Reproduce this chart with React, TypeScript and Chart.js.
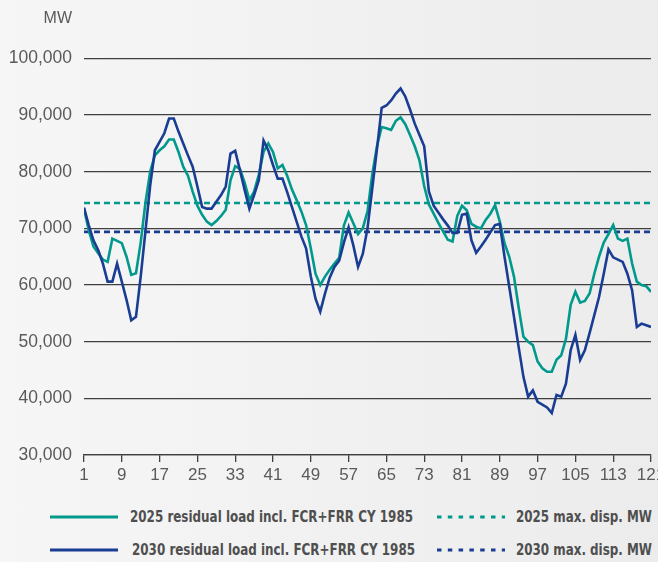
import React, { useEffect, useLayoutEffect, useRef } from 'react';
import { Chart, registerables } from 'chart.js';

Chart.register(...registerables);

// ---------- DATA ----------
const categories: number[] = Array.from({ length: 121 }, (_, i) => i + 1);

const xTickStep = 8;
const yUnit = 'MW';

const res2025: number[] = [
  73500, 69700, 66800, 65600, 64500, 64100, 68200, 67800, 67400, 65000,
  61800, 62100, 67500, 74500, 80000, 82900, 83800, 84500, 85700, 85700,
  83500, 80900, 79300, 76500, 74000, 72400, 71200, 70600, 71300, 72200,
  73300, 78500, 81000, 80500, 78100, 75000, 76500, 79500, 83500, 85000,
  83500, 80600, 81200, 79300, 76900, 75000, 73000, 70600, 66500, 62000,
  60000, 61500, 62700, 63800, 64800, 70500, 72800, 70900, 69000, 70000,
  73000, 79500, 84500, 87900, 87700, 87400, 89000, 89600, 88400, 86500,
  84500, 82000, 77500, 74200, 72600, 71000, 69500, 68000, 67700, 72200,
  74000, 73200, 70800, 70300, 70000, 71500, 72600, 74100, 71200, 67400,
  65000, 61500, 56000, 50900, 50000, 49400, 46500, 45300, 44700, 44700,
  46800, 47600, 50500, 56500, 58800, 56900, 57200, 58500, 62000, 65000,
  67500, 69000, 70600, 68200, 67800, 68200, 63800, 60600, 60000, 59800, 58800,
];

const res2030: number[] = [
  73700, 70600, 67900, 66200, 63800, 60600, 60600, 63800, 60600, 57400,
  53800, 54400, 61500, 69500, 77500, 83800, 85300, 86800, 89400, 89400,
  87100, 85000, 82900, 80900, 77400, 73800, 73500, 73500, 74700, 75900,
  77400, 83200, 83700, 80300, 76800, 73500, 75900, 78500, 85500, 83800,
  81200, 78800, 78800, 76400, 73800, 71200, 68600, 66500, 61500, 57600,
  55300, 58500, 61300, 63200, 64300, 67500, 70200, 67000, 63200, 65500,
  70000, 77000, 84000, 91300, 91700, 92600, 93800, 94700, 93300, 91000,
  88500, 86500, 84500, 76500, 74000, 72800, 71600, 70500, 69200, 69200,
  72400, 72600, 67900, 65700, 66800, 68000, 69300, 70600, 70800, 65000,
  59700, 54400, 49000, 43800, 40300, 41400, 39400, 38900, 38400, 37400,
  40600, 40300, 42600, 48500, 51200, 46800, 48500, 51500, 54700, 57900,
  62000, 66300, 64900, 64500, 64100, 62000, 59100, 52600, 53200, 52900, 52600,
];

const maxDisp2025 = 74500;
const maxDisp2030 = 69400;

const yMin = 30000;
const yMax = 100000;
const yStep = 10000;

const seriesLabels = [
  '2025 residual load incl. FCR+FRR CY 1985',
  '2030 residual load incl. FCR+FRR CY 1985',
  '2025 max. disp. MW',
  '2030 max. disp. MW',
];

// ---------- STYLE ----------
const TEAL = '#00998C';
const BLUE = '#1A3D94';
const GRID = '#3f3f3f';
const TICK = '#5a5a5a';
const LEGEND_TEXT = '#4f4f4f';
const FONT = '"Liberation Sans", Arial, sans-serif';

const mwLabelPlugin = {
  id: 'mwLabel',
  afterDraw(chart: any) {
    const ctx = chart.ctx;
    ctx.save();
    ctx.font = `16px ${FONT}`;
    ctx.fillStyle = TICK;
    ctx.textAlign = 'right';
    ctx.textBaseline = 'middle';
    ctx.fillText(yUnit, chart.chartArea.left - 12, 19);
    ctx.restore();
  },
};

function LegendText({ text, left, top, width }: { text: string; left: number; top: number; width: number }) {
  const ref = useRef<HTMLSpanElement>(null);
  useLayoutEffect(() => {
    const el = ref.current;
    if (!el) return;
    el.style.transform = 'none';
    const w = el.getBoundingClientRect().width;
    if (w > 0) el.style.transform = `scaleX(${width / w})`;
  }, [text, width]);
  return (
    <span
      ref={ref}
      style={{
        position: 'absolute',
        left,
        top,
        whiteSpace: 'nowrap',
        transformOrigin: '0 50%',
        fontFamily: '"Liberation Sans Narrow", "Arial Narrow", "DejaVu Sans Condensed", "Roboto", sans-serif',
        fontWeight: 700,
        fontSize: 15,
        lineHeight: '18px',
        color: LEGEND_TEXT,
      }}
    >
      {text}
    </span>
  );
}

function LegendLine({ color, left, top, dashed }: { color: string; left: number; top: number; dashed: boolean }) {
  return (
    <svg style={{ position: 'absolute', left, top: top - 2 }} width={68} height={4}>
      <line
        x1={0}
        y1={2}
        x2={68}
        y2={2}
        stroke={color}
        strokeWidth={3}
        strokeDasharray={dashed ? '4.5 6.3' : undefined}
      />
    </svg>
  );
}

export default function App() {
  const canvasRef = useRef<HTMLCanvasElement>(null);

  useEffect(() => {
    const canvas = canvasRef.current;
    if (!canvas) return;
    const first = categories[0];
    const last = categories[categories.length - 1];
    const chart = new Chart(canvas, {
      type: 'line',
      data: {
        labels: categories,
        datasets: [
          {
            label: seriesLabels[0],
            data: res2025,
            borderColor: TEAL,
            borderWidth: 2.6,
            pointRadius: 0,
            tension: 0,
            order: 1,
          },
          {
            label: seriesLabels[1],
            data: res2030,
            borderColor: BLUE,
            borderWidth: 2.6,
            pointRadius: 0,
            tension: 0,
            order: 0,
          },
          {
            label: seriesLabels[2],
            data: [
              { x: first, y: maxDisp2025 },
              { x: last, y: maxDisp2025 },
            ],
            borderColor: TEAL,
            borderWidth: 2.6,
            borderDash: [6, 4],
            pointRadius: 0,
            order: 2,
          },
          {
            label: seriesLabels[3],
            data: [
              { x: first, y: maxDisp2030 },
              { x: last, y: maxDisp2030 },
            ],
            borderColor: BLUE,
            borderWidth: 2.6,
            borderDash: [6, 4],
            pointRadius: 0,
            order: 3,
          },
        ] as any,
      },
      options: {
        animation: false,
        responsive: false,
        maintainAspectRatio: false,
        layout: { padding: { left: 0, right: 7, top: 58.5, bottom: 0 } },
        plugins: { legend: { display: false }, tooltip: { enabled: false } },
        scales: {
          x: {
            type: 'linear',
            min: first,
            max: last,
            ticks: {
              stepSize: xTickStep,
              color: TICK,
              font: { family: FONT, size: 17 },
              padding: 3,
              maxRotation: 0,
              autoSkip: false,
            },
            grid: {
              drawOnChartArea: false,
              drawTicks: true,
              tickLength: 7,
              color: GRID,
              lineWidth: 1.3,
            },
            border: { display: true, color: GRID, width: 1.3 },
            afterFit(scale: any) {
              scale.height = 45;
              scale.paddingLeft = 0;
              scale.paddingRight = 0;
            },
          },
          y: {
            min: yMin,
            max: yMax,
            ticks: {
              stepSize: yStep,
              color: TICK,
              font: { family: FONT, size: 17.5 },
              padding: 12,
              callback: (v: any) => Number(v).toLocaleString('en-US'),
            },
            grid: { color: GRID, lineWidth: 1.3, drawTicks: false },
            border: { display: false },
            afterFit(scale: any) {
              scale.width = 84;
            },
          },
        },
      } as any,
      plugins: [mwLabelPlugin],
    });
    return () => chart.destroy();
  }, []);

  return (
    <div
      style={{
        position: 'fixed',
        left: 0,
        top: 0,
        width: 658,
        height: 562,
        overflow: 'hidden',
        background: 'linear-gradient(to right, #f6f6f6, #ececec)',
      }}
    >
      <canvas ref={canvasRef} width={658} height={500} style={{ position: 'absolute', left: 0, top: 0, width: 658, height: 500 }} />
      <LegendLine color={TEAL} left={50} top={517} dashed={false} />
      <LegendText text={seriesLabels[0]} left={130} top={508} width={283} />
      <LegendLine color={TEAL} left={437} top={517} dashed={true} />
      <LegendText text={seriesLabels[2]} left={516} top={508} width={136} />
      <LegendLine color={BLUE} left={50} top={550} dashed={false} />
      <LegendText text={seriesLabels[1]} left={132} top={541} width={283} />
      <LegendLine color={BLUE} left={437} top={550} dashed={true} />
      <LegendText text={seriesLabels[3]} left={516} top={541} width={136} />
    </div>
  );
}
